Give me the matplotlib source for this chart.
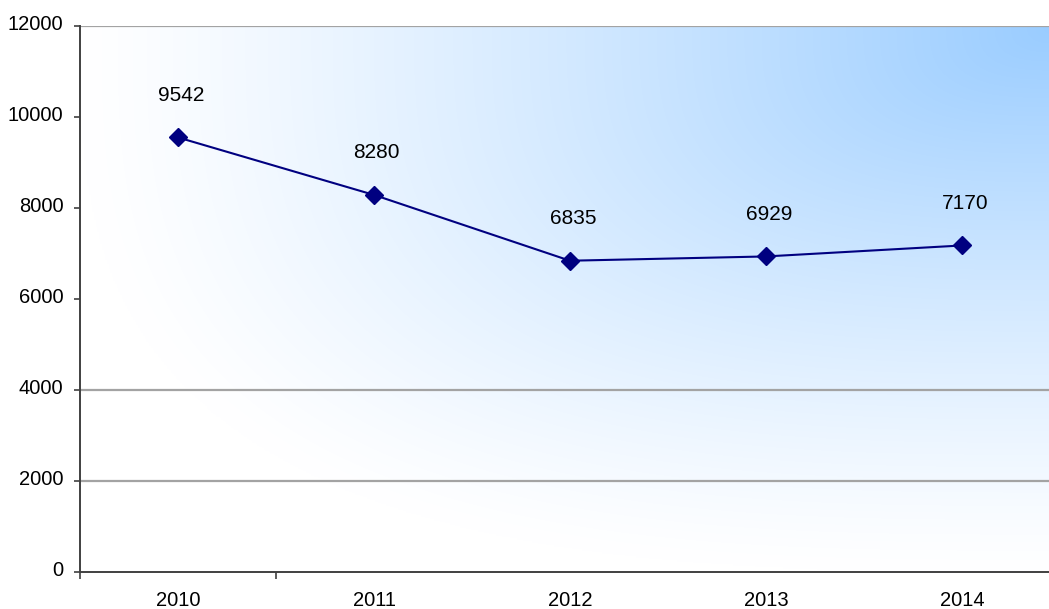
import numpy as np
import matplotlib
matplotlib.use("Agg")
import matplotlib.pyplot as plt
from matplotlib.ticker import FixedLocator, NullFormatter
from matplotlib.transforms import ScaledTranslation

plt.rcParams['font.family'] = ['Liberation Sans', 'DejaVu Sans']

years = ["2010", "2011", "2012", "2013", "2014"]
values = [9542, 8280, 6835, 6929, 7170]
y_ticks = [0, 2000, 4000, 6000, 8000, 10000, 12000]
grid_levels = [2000, 4000, 12000]

W, H = 1049, 609
fig = plt.figure(figsize=(W / 100, H / 100), dpi=100)
fig.patch.set_facecolor("white")

left_px, right_px, top_px, bottom_px = 80, 1060, 25.5, 572
ax = fig.add_axes([left_px / W, (H - bottom_px) / H,
                   (right_px - left_px) / W, (bottom_px - top_px) / H])
ax.set_facecolor("white")

x = np.arange(len(years))
ax.set_xlim(-0.5, len(years) - 0.5)
ax.set_ylim(0, 12000)

# corner gradient background: light blue in the top-right corner fading to white
nx, ny = 600, 400
gx = np.linspace(0, 1, nx)
gy = np.linspace(0, 1, ny)
GX, GY = np.meshgrid(gx, gy)
u = 1 - GX
v = 1 - GY
p = 3.0
d = (u ** p + v ** p) ** (1 / p)
t = np.clip(1 - d, 0, 1) ** 1.2
blue = np.array([153, 204, 255]) / 255.0
img = (1 - t)[..., None] * np.ones(3) + t[..., None] * blue
ax.imshow(img, extent=[0, 1, 0, 1], transform=ax.transAxes, origin="lower",
          aspect="auto", zorder=0, interpolation="bilinear")

for g in grid_levels:
    ax.axhline(g, color="#a3a3a3", lw=1.6, zorder=1)

ax.plot(x, values, color="#000080", lw=1.5, marker="D", markersize=9,
        markerfacecolor="#000080", markeredgecolor="#000080", zorder=3)

for xi, val in zip(x, values):
    ax.annotate(str(val), (xi, val), xytext=(2, 30.5), textcoords="offset points",
                ha="center", va="center", fontsize=15, color="black", zorder=4)

for side in ["top", "right"]:
    ax.spines[side].set_visible(False)
for side in ["left", "bottom"]:
    ax.spines[side].set_color("#404040")
    ax.spines[side].set_linewidth(1.4)
    ax.spines[side].set_zorder(2)

ax.set_yticks(y_ticks)
ax.set_yticklabels([str(v) for v in y_ticks])
ax.tick_params(axis="y", length=4, width=1.2, color="#404040", pad=8,
               labelsize=14.5, labelcolor="black")
lift = ScaledTranslation(0, 0.035, fig.dpi_scale_trans)
for lab in ax.get_yticklabels():
    lab.set_transform(lab.get_transform() + lift)

ax.xaxis.set_major_locator(FixedLocator([-0.5, 0.5]))
ax.xaxis.set_major_formatter(NullFormatter())
ax.xaxis.set_minor_locator(FixedLocator(x))
ax.set_xticklabels(years, minor=True)
ax.tick_params(axis="x", which="major", length=5, width=1.2, color="#404040")
ax.tick_params(axis="x", which="minor", length=0, pad=14, labelsize=14.5,
               labelcolor="black")

fig.savefig("out.png", dpi=100, facecolor="white")
